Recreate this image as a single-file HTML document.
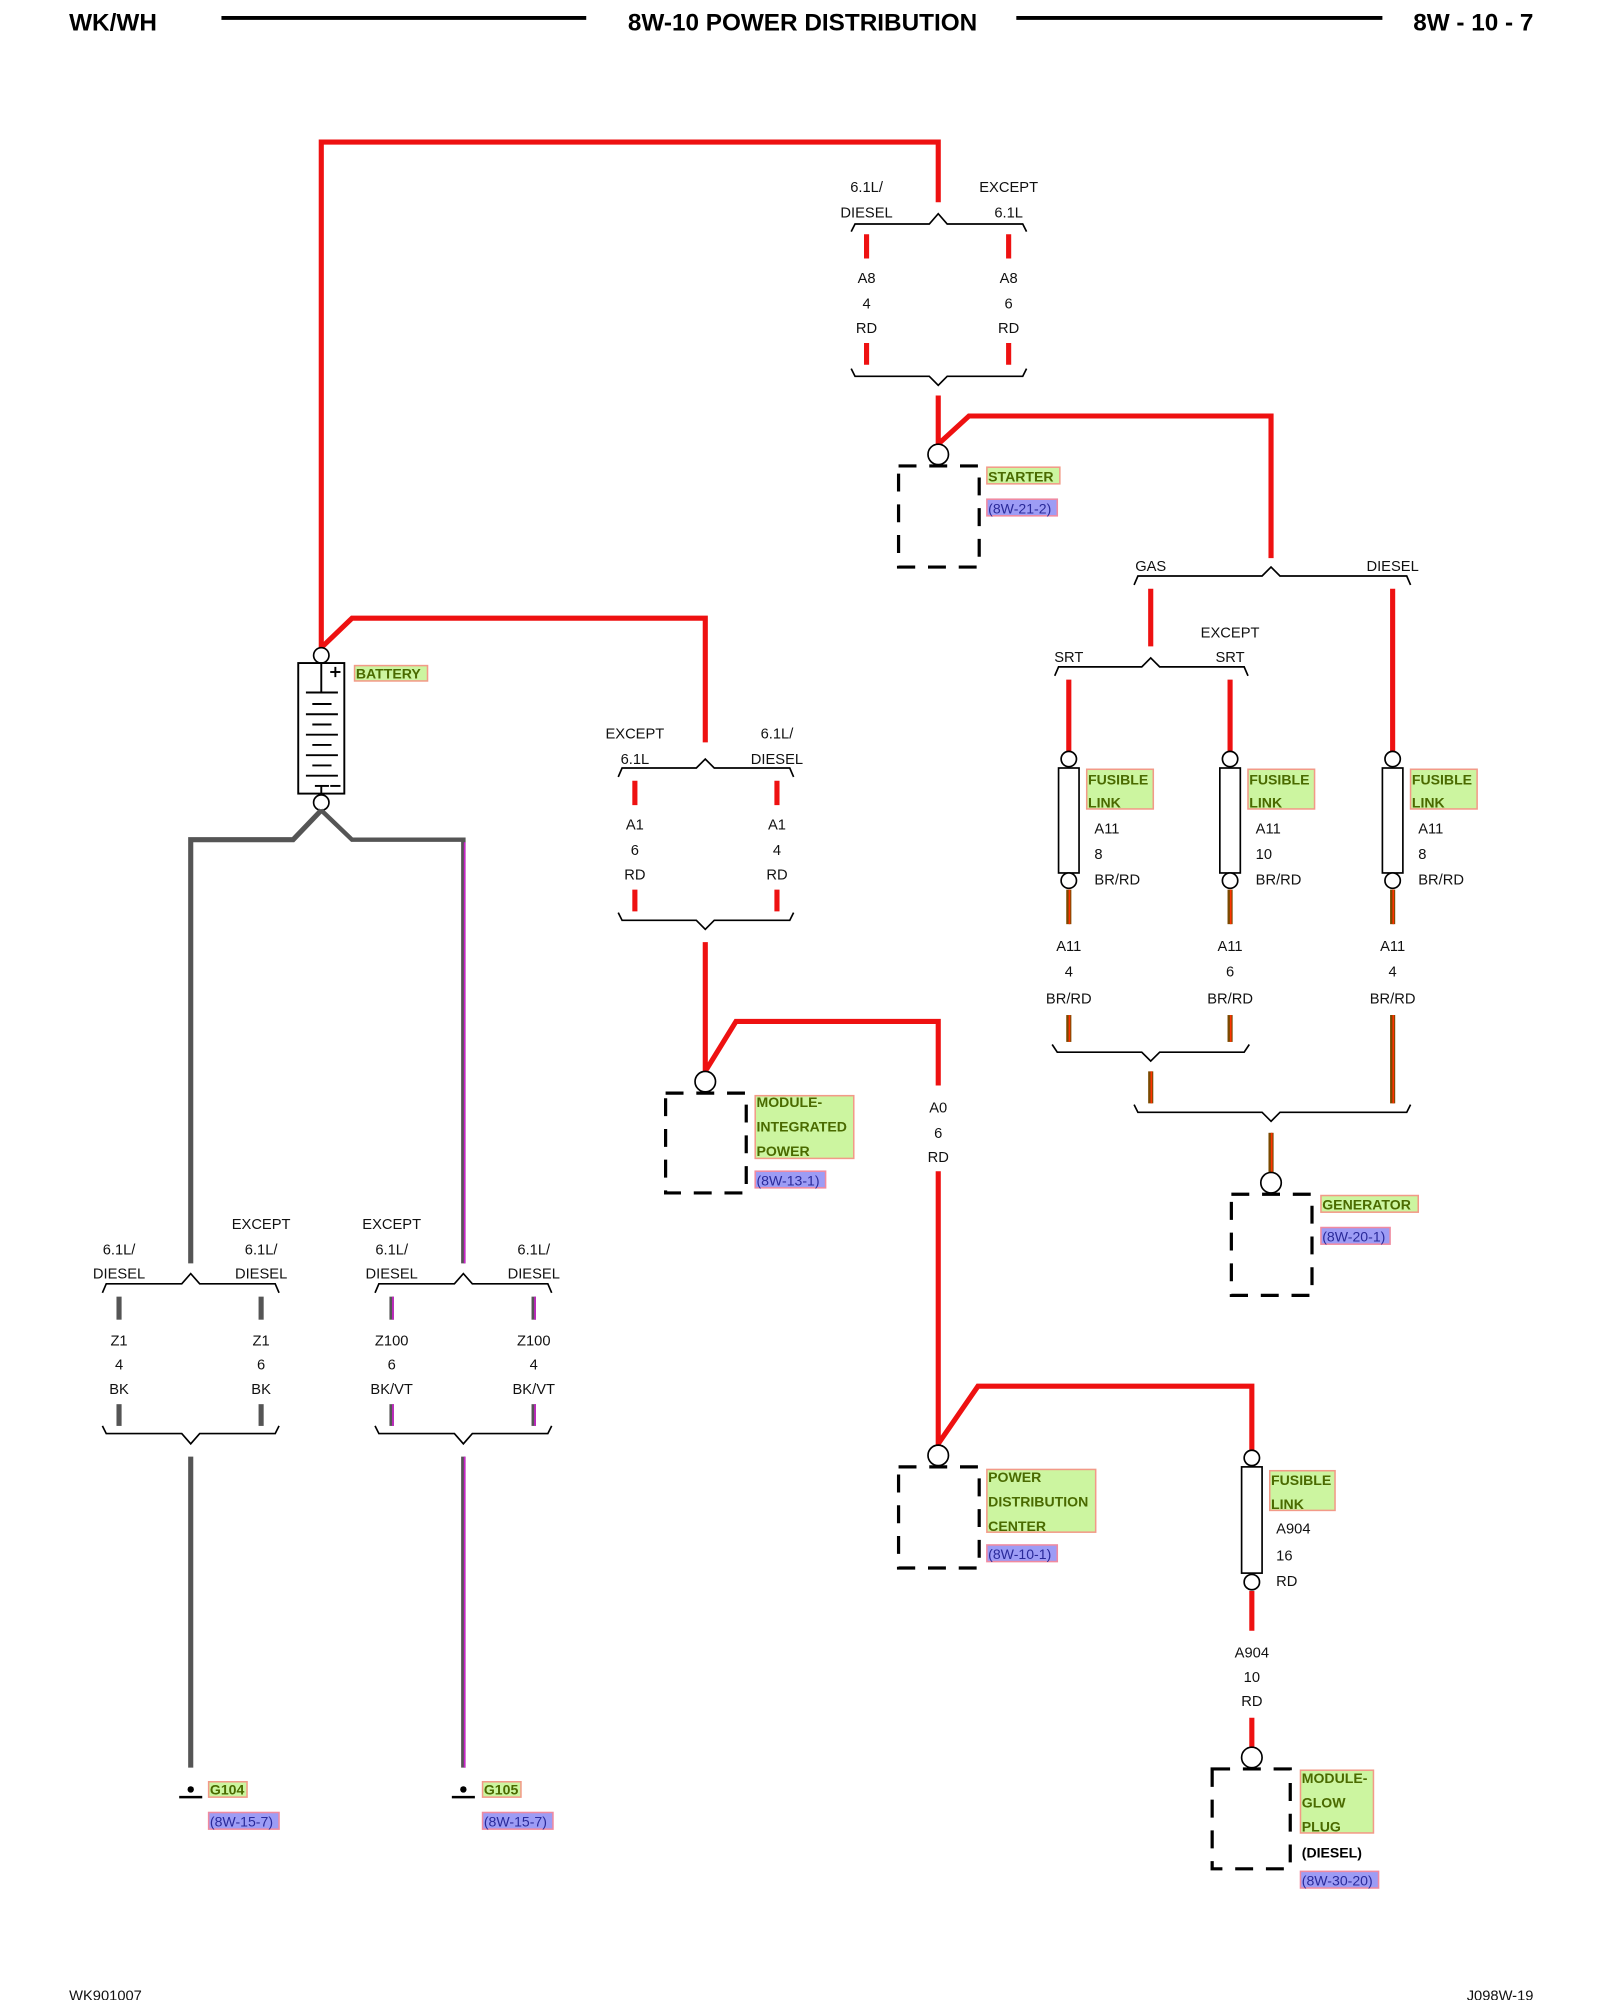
<!DOCTYPE html>
<html><head><meta charset="utf-8"><style>
html,body{margin:0;padding:0;background:#fff;}
svg{display:block;}
text{font-family:"Liberation Sans",Arial,sans-serif;}
</style></head><body>
<svg width="1600" height="2000" viewBox="0 0 1250 1562.5" xmlns="http://www.w3.org/2000/svg">
<defs>
<style>
.w{font-size:11.5px;fill:#111;text-anchor:middle;}
.l{font-size:11.5px;fill:#111;}
.g{font-size:11px;fill:#4a6a00;font-weight:bold;}
.b{font-size:11px;fill:#2a2a9a;}
.r{stroke:#ee1111;stroke-width:4;fill:none;}
.br{fill:none;stroke:#000;stroke-width:1.3;}
.box{fill:none;stroke:#000;stroke-width:2.5;stroke-dasharray:14 10;}
.gb{fill:#ccf5a0;stroke:#f29a88;stroke-width:1.2;}
.bb{fill:#9d9cf5;stroke:#f08aa0;stroke-width:1.2;}
.c{fill:#fff;stroke:#000;stroke-width:1.3;}
</style>
</defs>

<!-- Header -->
<text x="54" y="24" style="font-size:19px;font-weight:bold">WK/WH</text>
<line x1="173" y1="14" x2="458" y2="14" stroke="#000" stroke-width="3"/>
<text x="627" y="24" text-anchor="middle" style="font-size:19px;font-weight:bold">8W-10 POWER DISTRIBUTION</text>
<line x1="794" y1="14" x2="1080" y2="14" stroke="#000" stroke-width="3"/>
<text x="1198" y="24" text-anchor="end" style="font-size:19px;font-weight:bold">8W - 10 - 7</text>

<!-- Top red loop -->
<path class="r" d="M251,506 L251,111 L733,111 L733,158"/>
<path class="r" d="M251,506 L275,483 L551,483 L551,580"/>

<!-- Top splice -->
<text class="w" x="677" y="150">6.1L/</text><text class="w" x="677" y="170">DIESEL</text>
<text class="w" x="788" y="150">EXCEPT</text><text class="w" x="788" y="170">6.1L</text>
<path class="br" d="M665,181 L668,175 L726,175 L733,167 L740,175 L799,175 L802,181"/>
<path class="r" d="M677,183V202 M788,183V202 M677,268V285 M788,268V285"/>
<text class="w" x="677" y="221">A8</text><text class="w" x="677" y="241">4</text><text class="w" x="677" y="260">RD</text>
<text class="w" x="788" y="221">A8</text><text class="w" x="788" y="241">6</text><text class="w" x="788" y="260">RD</text>
<path class="br" d="M665,288 L668,294 L726,294 L733,301 L740,294 L799,294 L802,288"/>
<path class="r" d="M733,309 L733,347 M733,347 L757,325 L993,325 L993,436"/>

<!-- Starter -->
<circle class="c" cx="733" cy="355" r="8"/>
<rect class="box" x="702" y="364" width="63" height="79"/>
<rect class="gb" x="771" y="365" width="57" height="13"/><text class="g" x="772" y="376">STARTER</text>
<rect class="bb" x="771" y="390" width="55" height="13"/><text class="b" x="772" y="401">(8W-21-2)</text>

<!-- Gas/Diesel -->
<text class="w" x="899" y="446">GAS</text><text class="w" x="1088" y="446">DIESEL</text>
<path class="br" d="M886,457 L889,450 L986,450 L993,443 L1000,450 L1099,450 L1102,457"/>
<path class="r" d="M899,460V505 M1088,460V590"/>
<text class="w" x="961" y="498">EXCEPT</text>
<text class="w" x="835" y="517">SRT</text><text class="w" x="961" y="517">SRT</text>
<path class="br" d="M824,528 L827,521 L892,521 L899,514 L906,521 L972,521 L975,528"/>
<path class="r" d="M835,531V590 M961,531V590"/>

<!-- Fusible links row -->
<g id="fl">
<circle class="c" cx="835" cy="593" r="6"/>
<rect x="827" y="600" width="16" height="82" fill="#fff" stroke="#000" stroke-width="1.3"/>
<circle class="c" cx="835" cy="688" r="6"/>
<line x1="835" y1="695" x2="835" y2="722" stroke="#7a4a00" stroke-width="4"/>
<line x1="835.5" y1="695" x2="835.5" y2="722" stroke="#ff3300" stroke-width="1.3"/>
<rect class="gb" x="849" y="601" width="52" height="31"/>
<text class="g" x="850" y="613">FUSIBLE</text><text class="g" x="850" y="631">LINK</text>
<text class="l" x="855" y="651">A11</text>
</g>
<use href="#fl" x="126"/><use href="#fl" x="253"/>
<text class="l" x="855" y="671">8</text><text class="l" x="855" y="691">BR/RD</text>
<text class="l" x="981" y="671">10</text><text class="l" x="981" y="691">BR/RD</text>
<text class="l" x="1108" y="671">8</text><text class="l" x="1108" y="691">BR/RD</text>

<text class="w" x="835" y="743">A11</text><text class="w" x="835" y="763">4</text><text class="w" x="835" y="784">BR/RD</text>
<text class="w" x="961" y="743">A11</text><text class="w" x="961" y="763">6</text><text class="w" x="961" y="784">BR/RD</text>
<text class="w" x="1088" y="743">A11</text><text class="w" x="1088" y="763">4</text><text class="w" x="1088" y="784">BR/RD</text>
<g stroke="#7a4a00" stroke-width="4">
<line x1="835" y1="793" x2="835" y2="814"/><line x1="961" y1="793" x2="961" y2="814"/>
<line x1="1088" y1="793" x2="1088" y2="862"/><line x1="899" y1="837" x2="899" y2="862"/>
<line x1="993" y1="885" x2="993" y2="916"/>
</g>
<g stroke="#ff3300" stroke-width="1.3">
<line x1="835.5" y1="793" x2="835.5" y2="814"/><line x1="961.5" y1="793" x2="961.5" y2="814"/>
<line x1="1088.5" y1="793" x2="1088.5" y2="862"/><line x1="899.5" y1="837" x2="899.5" y2="862"/>
<line x1="993.5" y1="885" x2="993.5" y2="916"/>
</g>
<path class="br" d="M822,816 L826,822 L892,822 L899,829 L906,822 L972,822 L976,816"/>
<path class="br" d="M886,863 L889,869 L986,869 L993,876 L1000,869 L1099,869 L1102,863"/>

<!-- Generator -->
<circle class="c" cx="993" cy="924" r="8"/>
<rect class="box" x="962" y="933" width="63" height="79"/>
<rect class="gb" x="1032" y="934" width="76" height="13"/><text class="g" x="1033" y="945">GENERATOR</text>
<rect class="bb" x="1032" y="959" width="54" height="13"/><text class="b" x="1033" y="970">(8W-20-1)</text>

<!-- Battery -->
<circle class="c" cx="251" cy="512" r="6"/>
<rect x="233" y="518" width="36" height="102" fill="#fff" stroke="#000" stroke-width="1.5"/>
<g stroke="#000" stroke-width="1.5">
<line x1="251" y1="518" x2="251" y2="541"/>
<line x1="239" y1="541" x2="264" y2="541"/><line x1="244" y1="550" x2="259" y2="550"/>
<line x1="239" y1="558" x2="264" y2="558"/><line x1="244" y1="566" x2="259" y2="566"/>
<line x1="239" y1="574" x2="264" y2="574"/><line x1="244" y1="582" x2="259" y2="582"/>
<line x1="239" y1="590" x2="264" y2="590"/><line x1="244" y1="598" x2="259" y2="598"/>
<line x1="239" y1="606" x2="264" y2="606"/>
<line x1="246" y1="614" x2="257" y2="614"/><line x1="251" y1="614" x2="251" y2="620"/>
<line x1="258" y1="525" x2="266" y2="525"/><line x1="262" y1="521" x2="262" y2="529"/>
<line x1="258" y1="614" x2="266" y2="614"/>
</g>
<circle class="c" cx="251" cy="627" r="6"/>
<rect class="gb" x="277" y="520" width="57" height="12"/><text class="g" x="278" y="530">BATTERY</text>

<!-- Ground wires -->
<path d="M251,633 L229,656 L149,656 L149,987" fill="none" stroke="#555" stroke-width="4"/>
<path d="M251,633 L275,656 L362,656 L362,987" fill="none" stroke="#555" stroke-width="3.5"/>
<line x1="363" y1="658" x2="363" y2="987" stroke="#cc22cc" stroke-width="1.3"/>

<text class="w" x="93" y="980">6.1L/</text><text class="w" x="93" y="999">DIESEL</text>
<text class="w" x="204" y="960">EXCEPT</text><text class="w" x="204" y="980">6.1L/</text><text class="w" x="204" y="999">DIESEL</text>
<path class="br" d="M80,1010 L83,1003 L142,1003 L149,995 L156,1003 L215,1003 L218,1010"/>
<text class="w" x="306" y="960">EXCEPT</text><text class="w" x="306" y="980">6.1L/</text><text class="w" x="306" y="999">DIESEL</text>
<text class="w" x="417" y="980">6.1L/</text><text class="w" x="417" y="999">DIESEL</text>
<path class="br" d="M293,1010 L296,1003 L355,1003 L362,995 L369,1003 L428,1003 L431,1010"/>
<g stroke="#555" stroke-width="4">
<line x1="93" y1="1013" x2="93" y2="1031"/><line x1="204" y1="1013" x2="204" y2="1031"/>
<line x1="93" y1="1097" x2="93" y2="1114"/><line x1="204" y1="1097" x2="204" y2="1114"/>
<line x1="149" y1="1138" x2="149" y2="1381"/>
</g>
<g stroke="#555" stroke-width="3.5">
<line x1="306" y1="1013" x2="306" y2="1031"/><line x1="417" y1="1013" x2="417" y2="1031"/>
<line x1="306" y1="1097" x2="306" y2="1114"/><line x1="417" y1="1097" x2="417" y2="1114"/>
<line x1="362" y1="1138" x2="362" y2="1381"/>
</g>
<g stroke="#cc22cc" stroke-width="1.3">
<line x1="307" y1="1013" x2="307" y2="1031"/><line x1="418" y1="1013" x2="418" y2="1031"/>
<line x1="307" y1="1097" x2="307" y2="1114"/><line x1="418" y1="1097" x2="418" y2="1114"/>
<line x1="363" y1="1138" x2="363" y2="1381"/>
</g>
<text class="w" x="93" y="1051">Z1</text><text class="w" x="93" y="1070">4</text><text class="w" x="93" y="1089">BK</text>
<text class="w" x="204" y="1051">Z1</text><text class="w" x="204" y="1070">6</text><text class="w" x="204" y="1089">BK</text>
<text class="w" x="306" y="1051">Z100</text><text class="w" x="306" y="1070">6</text><text class="w" x="306" y="1089">BK/VT</text>
<text class="w" x="417" y="1051">Z100</text><text class="w" x="417" y="1070">4</text><text class="w" x="417" y="1089">BK/VT</text>
<path class="br" d="M80,1114 L83,1120 L142,1120 L149,1128 L156,1120 L215,1120 L218,1114"/>
<path class="br" d="M293,1114 L296,1120 L355,1120 L362,1128 L369,1120 L428,1120 L431,1114"/>

<!-- Grounds -->
<g>
<circle cx="149" cy="1398" r="2.5" fill="#000"/><line x1="140" y1="1404" x2="158" y2="1404" stroke="#000" stroke-width="2"/>
<rect class="gb" x="163" y="1392" width="30" height="12"/><text class="g" x="164" y="1402">G104</text>
<rect class="bb" x="163" y="1416" width="55" height="13"/><text class="b" x="164" y="1427">(8W-15-7)</text>
<circle cx="362" cy="1398" r="2.5" fill="#000"/><line x1="353" y1="1404" x2="371" y2="1404" stroke="#000" stroke-width="2"/>
<rect class="gb" x="377" y="1392" width="30" height="12"/><text class="g" x="378" y="1402">G105</text>
<rect class="bb" x="377" y="1416" width="55" height="13"/><text class="b" x="378" y="1427">(8W-15-7)</text>
</g>

<!-- Middle splice -->
<text class="w" x="496" y="577">EXCEPT</text><text class="w" x="496" y="597">6.1L</text>
<text class="w" x="607" y="577">6.1L/</text><text class="w" x="607" y="597">DIESEL</text>
<path class="br" d="M483,607 L486,600 L544,600 L551,593 L558,600 L617,600 L620,607"/>
<path class="r" d="M496,610V629 M607,610V629 M496,695V712 M607,695V712"/>
<text class="w" x="496" y="648">A1</text><text class="w" x="496" y="668">6</text><text class="w" x="496" y="687">RD</text>
<text class="w" x="607" y="648">A1</text><text class="w" x="607" y="668">4</text><text class="w" x="607" y="687">RD</text>
<path class="br" d="M483,713 L486,719 L544,719 L551,726 L558,719 L617,719 L620,713"/>
<path class="r" d="M551,736 L551,837 L575,798 L733,798 L733,848"/>
<text class="w" x="733" y="869">A0</text><text class="w" x="733" y="889">6</text><text class="w" x="733" y="908">RD</text>
<path class="r" d="M733,915 L733,1130 M733,1128 L764,1083 L978,1083 L978,1133"/>

<!-- Module integrated power -->
<circle class="c" cx="551" cy="845" r="8"/>
<rect class="box" x="520" y="854" width="63" height="78"/>
<rect class="gb" x="590" y="856" width="77" height="49"/>
<text class="g" x="591" y="865">MODULE-</text><text class="g" x="591" y="884">INTEGRATED</text><text class="g" x="591" y="903">POWER</text>
<rect class="bb" x="590" y="915" width="55" height="13"/><text class="b" x="591" y="926">(8W-13-1)</text>

<!-- PDC -->
<circle class="c" cx="733" cy="1137" r="8"/>
<rect class="box" x="702" y="1146" width="63" height="79"/>
<rect class="gb" x="771" y="1148" width="85" height="49"/>
<text class="g" x="772" y="1158">POWER</text><text class="g" x="772" y="1177">DISTRIBUTION</text><text class="g" x="772" y="1196">CENTER</text>
<rect class="bb" x="771" y="1207" width="55" height="13"/><text class="b" x="772" y="1218">(8W-10-1)</text>

<!-- Fusible link A904 -->
<circle class="c" cx="978" cy="1139" r="6"/>
<rect x="970" y="1146" width="16" height="83" fill="#fff" stroke="#000" stroke-width="1.3"/>
<circle class="c" cx="978" cy="1236" r="6"/>
<rect class="gb" x="992" y="1149" width="51" height="31"/>
<text class="g" x="993" y="1160">FUSIBLE</text><text class="g" x="993" y="1179">LINK</text>
<text class="l" x="997" y="1198">A904</text><text class="l" x="997" y="1219">16</text><text class="l" x="997" y="1239">RD</text>
<path class="r" d="M978,1243V1274 M978,1342V1366"/>
<text class="w" x="978" y="1295">A904</text><text class="w" x="978" y="1314">10</text><text class="w" x="978" y="1333">RD</text>

<!-- Glow plug -->
<circle class="c" cx="978" cy="1373" r="8"/>
<rect class="box" x="947" y="1382" width="61" height="78"/>
<rect class="gb" x="1016" y="1383" width="57" height="49"/>
<text class="g" x="1017" y="1393">MODULE-</text><text class="g" x="1017" y="1412">GLOW</text><text class="g" x="1017" y="1431">PLUG</text>
<text x="1017" y="1451" style="font-size:11px;font-weight:bold">(DIESEL)</text>
<rect class="bb" x="1016" y="1462" width="61" height="13"/><text class="b" x="1017" y="1473">(8W-30-20)</text>

<!-- Footer -->
<text class="l" x="54" y="1563">WK901007</text>
<text class="l" x="1198" y="1563" text-anchor="end">J098W-19</text>
</svg>
</body></html>
